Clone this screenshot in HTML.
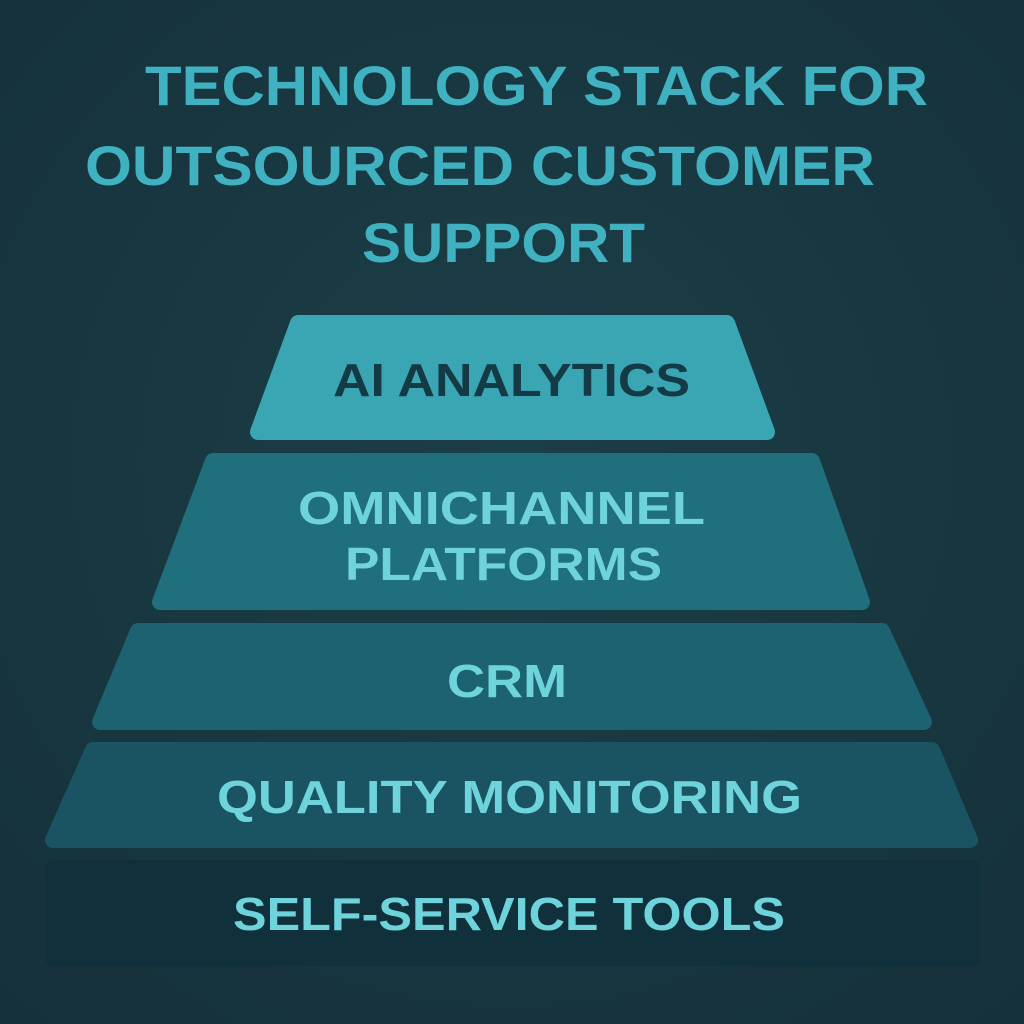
<!DOCTYPE html>
<html><head><meta charset="utf-8"><style>
html,body{margin:0;padding:0;background:#18363f;}
svg{display:block}
text{font-family:"Liberation Sans","DejaVu Sans",sans-serif;font-weight:bold;}
</style></head><body>
<svg width="1024" height="1024" viewBox="0 0 1024 1024" xmlns="http://www.w3.org/2000/svg">
<defs>
<radialGradient id="bg" cx="50%" cy="45%" r="75%">
<stop offset="0" stop-color="#1c3e48"/><stop offset="1" stop-color="#15313a"/>
</radialGradient>
</defs>
<rect width="1024" height="1024" fill="url(#bg)"/>
<g fill="#3fb1c0" font-size="56">
<text x="145" y="105" textLength="783" lengthAdjust="spacingAndGlyphs">TECHNOLOGY STACK FOR</text>
<text x="85" y="185" textLength="790" lengthAdjust="spacingAndGlyphs">OUTSOURCED CUSTOMER</text>
<text x="362" y="262" textLength="283" lengthAdjust="spacingAndGlyphs">SUPPORT</text>
</g>
<g stroke-linejoin="round" stroke-width="16">
<polygon points="298,323 727,323 767,432 258,432" fill="#3aa6b4" stroke="#3aa6b4"/>
<polygon points="213,461 812,461 862,602 160,602" fill="#1f6f7c" stroke="#1f6f7c"/>
<polygon points="138,631 882,631 924,722 100,722" fill="#1c6270" stroke="#1c6270"/>
<polygon points="93,750 932,750 970,840 53,840" fill="#1a5462" stroke="#1a5462"/>
<polygon points="53,868 972,868 972,958 53,958" fill="#10303b" stroke="#10303b"/>
</g>
<text x="333" y="396" font-size="46" fill="#133a45" textLength="357" lengthAdjust="spacingAndGlyphs">AI ANALYTICS</text>
<g fill="#6fd3dc" font-size="46">
<text x="298" y="524" textLength="407" lengthAdjust="spacingAndGlyphs">OMNICHANNEL</text>
<text x="345" y="580" textLength="317" lengthAdjust="spacingAndGlyphs">PLATFORMS</text>
<text x="447" y="697" textLength="120" lengthAdjust="spacingAndGlyphs">CRM</text>
<text x="217" y="813" textLength="585" lengthAdjust="spacingAndGlyphs">QUALITY MONITORING</text>
<text x="233" y="930" textLength="552" lengthAdjust="spacingAndGlyphs">SELF-SERVICE TOOLS</text>
</g>
</svg>
</body></html>
